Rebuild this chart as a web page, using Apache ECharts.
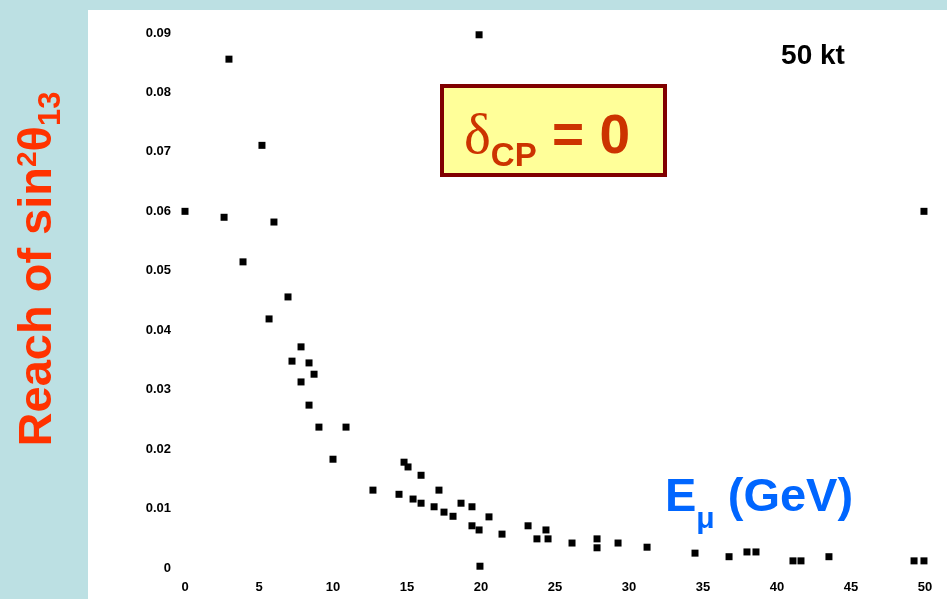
<!DOCTYPE html>
<html>
<head>
<meta charset="utf-8">
<style>
  html, body { margin: 0; padding: 0; background: #bce0e3; }
  #chart { width: 947px; height: 599px; }
</style>
<script src="https://cdn.jsdelivr.net/npm/echarts@6/dist/echarts.min.js"></script>
</head>
<body>
<div id="chart"></div>
<script>
// Muon energy (GeV) of each simulated configuration
const energyGeV = [
  19.87, 2.97, 5.20, 0.00, 2.64, 6.01, 3.92, 6.96, 5.68, 7.84,
  7.23, 8.38, 8.72, 7.84, 8.38, 9.05, 10.88, 10.00, 14.80, 15.07,
  15.95, 12.70, 14.46, 15.41, 15.95, 16.83, 17.50, 18.11, 17.16, 18.65,
  19.39, 20.54, 19.39, 19.87, 21.42, 23.18, 24.39, 23.78, 24.53, 26.15,
  27.84, 27.84, 29.26, 31.22, 34.46, 36.76, 37.97, 38.58, 41.08, 41.62,
  43.51, 49.26, 49.93, 49.93, 19.93
];
// Reach in sin^2(theta13) for each configuration
const reach = [
  0.0897, 0.0856, 0.0711, 0.0600, 0.0590, 0.0582, 0.0515, 0.0456, 0.0419, 0.0372,
  0.0348, 0.0345, 0.0326, 0.0313, 0.0274, 0.0237, 0.0237, 0.0183, 0.0178, 0.0170,
  0.0156, 0.0131, 0.0124, 0.0116, 0.0109, 0.0103, 0.0094, 0.0087, 0.0131, 0.0109,
  0.0103, 0.0086, 0.0071, 0.0064, 0.0057, 0.0071, 0.0064, 0.0049, 0.0049, 0.0042,
  0.0049, 0.0034, 0.0042, 0.0035, 0.0025, 0.0019, 0.0027, 0.0027, 0.0012, 0.0012,
  0.0019, 0.0012, 0.0012, 0.0600, 0.0003
];
// Axis ranges and tick spacing
const xTicks = { min: 0, max: 50, step: 5 };
const yTicks = { min: 0, max: 0.09, step: 0.01 };

const points = energyGeV.map((e, i) => [e, reach[i]]);

const chart = echarts.init(document.getElementById('chart'));
const tickFont = {
  color: '#000',
  fontFamily: 'Liberation Sans',
  fontWeight: 'bold',
  fontSize: 13
};

chart.setOption({
  backgroundColor: '#bce0e3',
  animation: false,
  grid: { left: 185, right: 22, top: 33, bottom: 31 },
  xAxis: {
    type: 'value',
    min: xTicks.min, max: xTicks.max, interval: xTicks.step,
    axisLine: { show: false },
    axisTick: { show: false },
    splitLine: { show: false },
    axisLabel: Object.assign({ margin: 13 }, tickFont)
  },
  yAxis: {
    type: 'value',
    min: yTicks.min, max: yTicks.max, interval: yTicks.step,
    axisLine: { show: false },
    axisTick: { show: false },
    splitLine: { show: false },
    axisLabel: Object.assign({
      margin: 14,
      formatter: v => (v === 0 ? '0' : v.toFixed(2))
    }, tickFont)
  },
  graphic: [
    // white plotting panel
    {
      type: 'rect', z: -10, silent: true,
      shape: { x: 88, y: 10, width: 870, height: 600 },
      style: { fill: '#ffffff' }
    },
    // vertical axis title
    {
      type: 'text', z: 5,
      x: 38, y: 269,
      rotation: Math.PI / 2,
      style: {
        text: '{m|Reach of sin}{sup|2}{m|θ}{sub|13}',
        align: 'center',
        verticalAlign: 'middle',
        rich: {
          m: { fontFamily: 'Liberation Sans', fontWeight: 'bold', fontSize: 47, fill: '#ff3300' },
          sup: { fontFamily: 'Liberation Sans', fontWeight: 'bold', fontSize: 28, fill: '#ff3300', padding: [0, 0, 20, 0] },
          sub: { fontFamily: 'Liberation Sans', fontWeight: 'bold', fontSize: 31, fill: '#ff3300', padding: [26, 0, 0, 0] }
        }
      }
    },
    // CP phase box
    {
      type: 'rect', z: 5,
      shape: { x: 442, y: 86, width: 223, height: 89 },
      style: { fill: '#ffff99', stroke: '#800000', lineWidth: 4 }
    },
    {
      type: 'text', z: 6,
      x: 464, y: 138,
      style: {
        text: '{d|δ}{s|CP}{e| = 0}',
        verticalAlign: 'middle',
        rich: {
          d: { fontFamily: 'Liberation Serif', fontSize: 57, fill: '#cc3300' },
          s: { fontFamily: 'Liberation Sans', fontWeight: 'bold', fontSize: 33, fill: '#cc3300', padding: [38, 0, 0, 0] },
          e: { fontFamily: 'Liberation Sans', fontWeight: 'bold', fontSize: 55, fill: '#cc3300' }
        }
      }
    },
    // detector label, upper right
    {
      type: 'text', z: 6,
      x: 813, y: 56,
      style: {
        text: '50 kt',
        align: 'center', verticalAlign: 'middle',
        fontFamily: 'Liberation Sans', fontWeight: 'bold', fontSize: 28, fill: '#000'
      }
    },
    // horizontal axis title
    {
      type: 'text', z: 6,
      x: 665, y: 498,
      style: {
        text: '{e|E}{m|μ}{g| (GeV)}',
        verticalAlign: 'middle',
        rich: {
          e: { fontFamily: 'Liberation Sans', fontWeight: 'bold', fontSize: 47, fill: '#0066ff' },
          m: { fontFamily: 'Liberation Sans', fontWeight: 'bold', fontSize: 30, fill: '#0066ff', padding: [44, 0, 0, 0] },
          g: { fontFamily: 'Liberation Sans', fontWeight: 'bold', fontSize: 47, fill: '#0066ff' }
        }
      }
    }
  ],
  series: [{
    type: 'scatter',
    data: points,
    symbol: 'rect',
    symbolSize: 7,
    clip: false,
    itemStyle: { color: '#000', opacity: 1 }
  }]
});
</script>
</body>
</html>
